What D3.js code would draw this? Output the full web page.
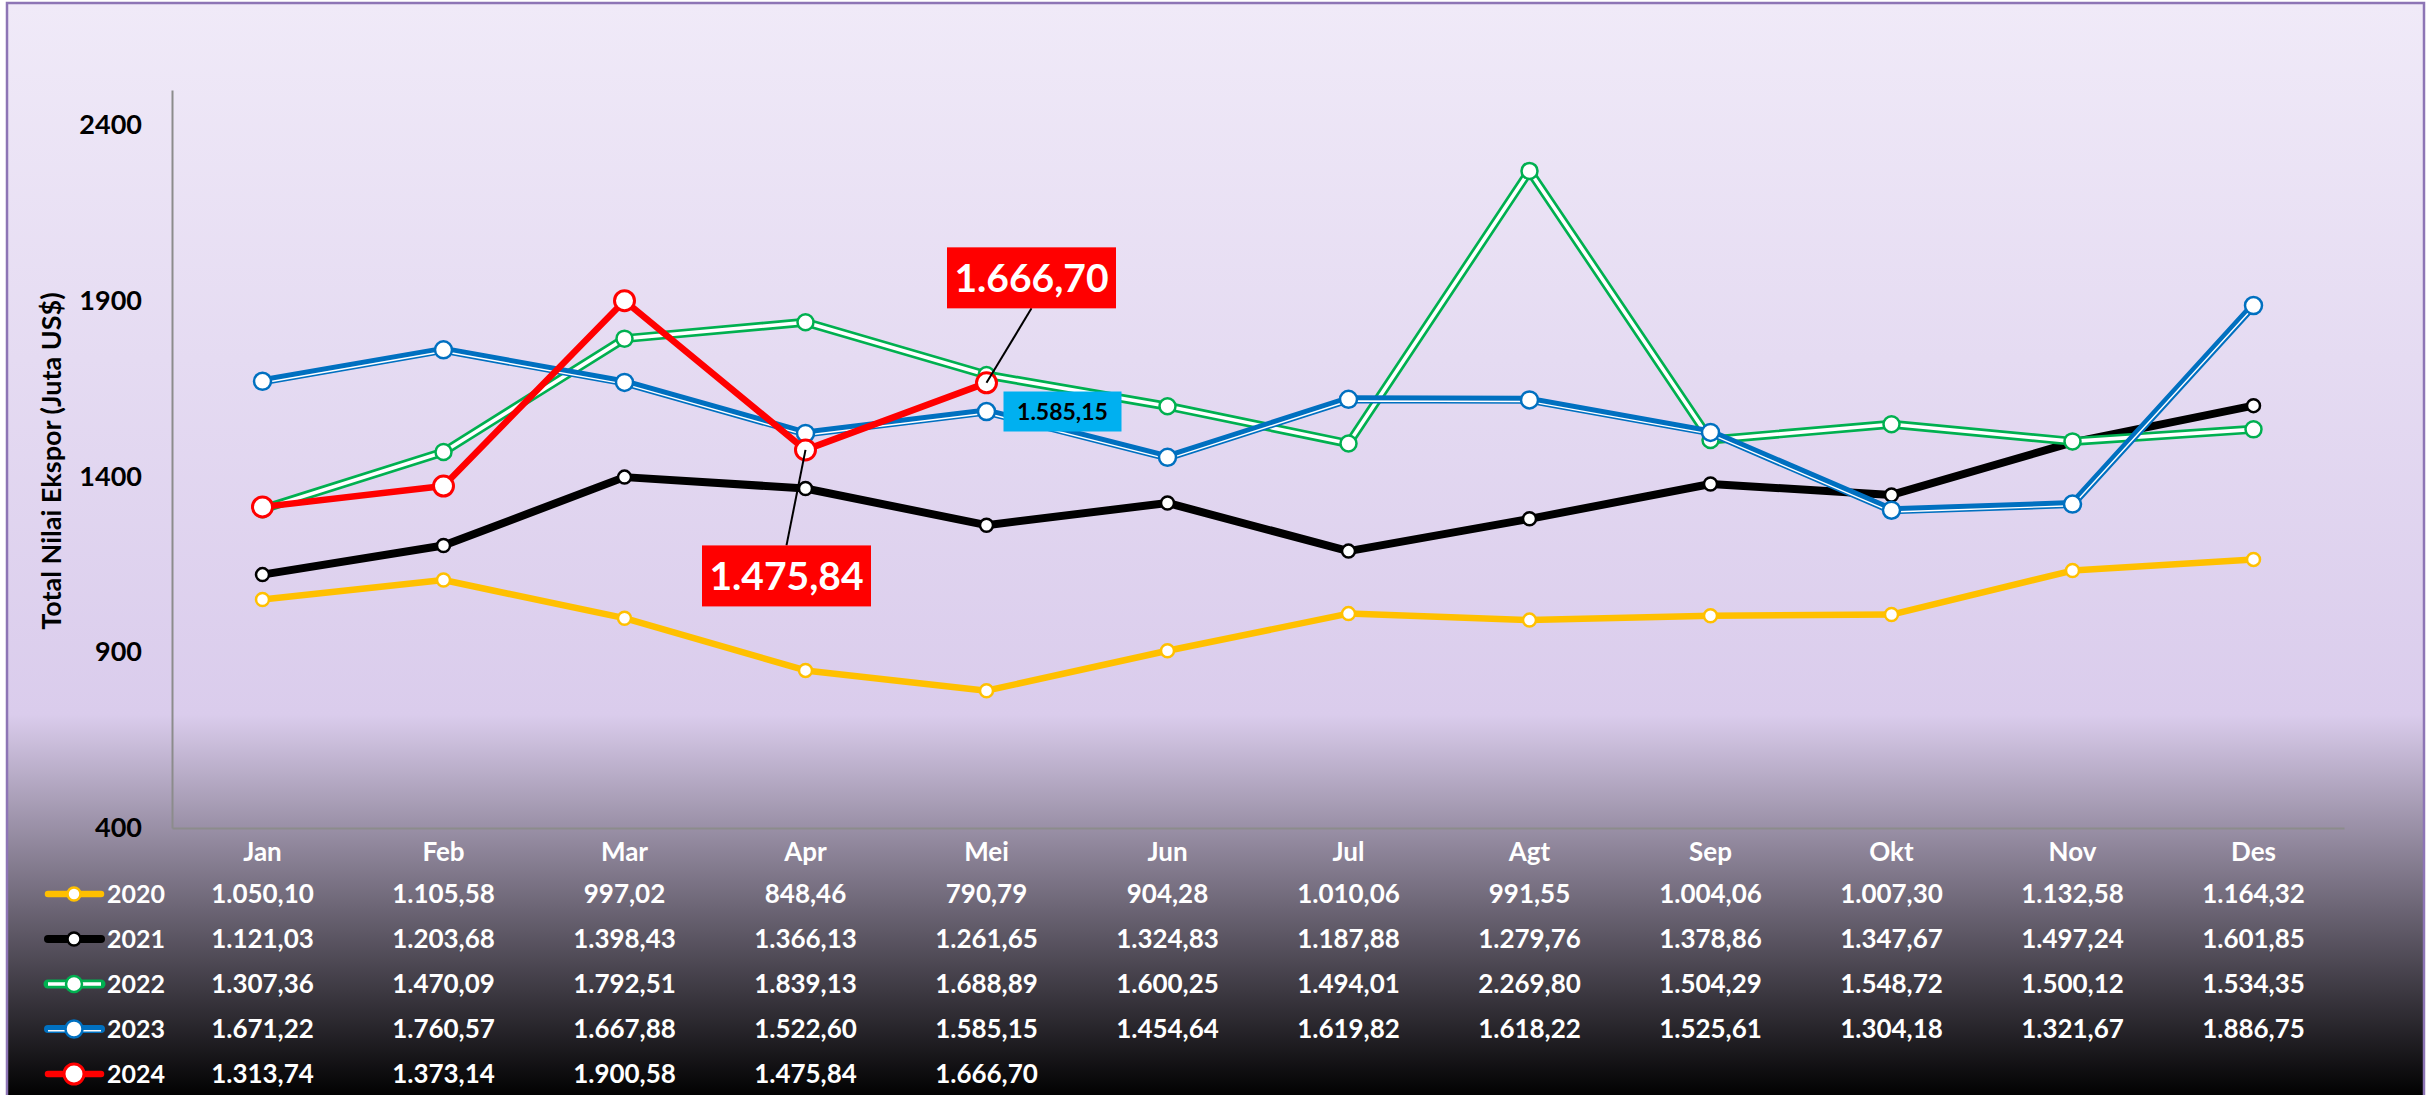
<!DOCTYPE html>
<html>
<head>
<meta charset="utf-8">
<script src="https://cdn.jsdelivr.net/npm/d3@7"></script>
<style>
  body { margin: 0; background: #fff; }
  svg { display: block; font-family: "Lato", "Open Sans", sans-serif; font-weight: 700; }
</style>
</head>
<body>
<div id="chart"></div>
<script>
const months = ["Jan", "Feb", "Mar", "Apr", "Mei", "Jun", "Jul", "Agt", "Sep", "Okt", "Nov", "Des"]
const years = ["2020", "2021", "2022", "2023", "2024"]
const v2020 = [1050.10, 1105.58, 997.02, 848.46, 790.79, 904.28, 1010.06, 991.55, 1004.06, 1007.30, 1132.58, 1164.32]
const v2021 = [1121.03, 1203.68, 1398.43, 1366.13, 1261.65, 1324.83, 1187.88, 1279.76, 1378.86, 1347.67, 1497.24, 1601.85]
const v2022 = [1307.36, 1470.09, 1792.51, 1839.13, 1688.89, 1600.25, 1494.01, 2269.80, 1504.29, 1548.72, 1500.12, 1534.35]
const v2023 = [1671.22, 1760.57, 1667.88, 1522.60, 1585.15, 1454.64, 1619.82, 1618.22, 1525.61, 1304.18, 1321.67, 1886.75]
const v2024 = [1313.74, 1373.14, 1900.58, 1475.84, 1666.70]
const yTicks = [400, 900, 1400, 1900, 2400]
const yTitle = "Total Nilai Ekspor (Juta US$)"
// values that get a callout box
const callouts = [["2024", "Mei"], ["2024", "Apr"], ["2023", "Mei"]]

const values = { "2020": v2020, "2021": v2021, "2022": v2022, "2023": v2023, "2024": v2024 }

const style = {
    "2020": { color: "#FFC000", width: 6.5, r: 6.5, sw: 2.5 },
    "2021": { color: "#000000", width: 8, r: 6.5, sw: 2.5 },
    "2022": { color: "#00B050", width: 9, r: 8, sw: 2.5, inner: 3.6, off: 0 },
    "2023": { color: "#0070C0", width: 8, r: 8.5, sw: 2.5, inner: 1.4, off: 1.7 },
    "2024": { color: "#FF0000", width: 6.5, r: 10, sw: 3 }
}

const W = 2434, H = 1095
const fmt = d3.formatLocale({ decimal: ",", thousands: ".", grouping: [3], currency: ["", ""] }).format(",.2f")

const svg = d3.select("#chart").append("svg").attr("width", W).attr("height", H)

const defs = svg.append("defs")
const grad = defs.append("linearGradient").attr("id", "bg")
    .attr("x1", 0).attr("y1", 0).attr("x2", 0).attr("y2", 1)
grad.append("stop").attr("offset", "0%").attr("stop-color", "#F0EAF8")
grad.append("stop").attr("offset", "65%").attr("stop-color", "#DACCEC")
grad.append("stop").attr("offset", "100%").attr("stop-color", "#000000")

svg.append("rect")
    .attr("x", 7).attr("y", 3).attr("width", 2417).attr("height", 1095)
    .attr("fill", "url(#bg)")
    .attr("stroke", "#8D75B5").attr("stroke-width", 2.5)

const x = d3.scaleBand().domain(months).range([172, 2344])
const y = d3.scaleLinear().domain([400, 2500]).range([828, 90])
const cx = (m) => x(m) + x.bandwidth() / 2

// axes
const yAxis = svg.append("g").attr("transform", "translate(172,0)")
    .call(d3.axisLeft(y).tickValues(yTicks).tickFormat(d3.format("d")).tickSize(0).tickPadding(30))
yAxis.select(".domain").attr("stroke", "#8C8C8C").attr("stroke-width", 2)
yAxis.selectAll("text").attr("font-size", 27).attr("font-weight", 700).attr("fill", "#000")
    .attr("font-family", "Lato")

const xAxis = svg.append("g").attr("transform", "translate(0,828)")
    .call(d3.axisBottom(x).tickSize(0).tickPadding(15))
xAxis.select(".domain").attr("stroke", "#8C8C8C").attr("stroke-width", 2)
xAxis.selectAll("text").attr("font-size", 26).attr("font-weight", 700).attr("fill", "#fff")
    .attr("font-family", "Lato")

svg.append("text")
    .attr("transform", "translate(61,461) rotate(-90)")
    .attr("text-anchor", "middle")
    .attr("font-size", 27)
    .attr("fill", "#000")
    .text(yTitle)

// lines + markers
const line = d3.line().x((d) => cx(d.m)).y((d) => y(d.v))

years.forEach((yr) => {
    const s = style[yr]
    const pts = values[yr].map((v, i) => ({ m: months[i], v: v }))
    const g = svg.append("g")
    g.append("path").datum(pts).attr("d", line)
        .attr("fill", "none").attr("stroke", s.color).attr("stroke-width", s.width)
        .attr("stroke-linejoin", "round").attr("stroke-linecap", "round")
    if (s.inner) {
        g.append("path").datum(pts).attr("d", line)
            .attr("transform", `translate(0,${s.off})`)
            .attr("fill", "none").attr("stroke", "#fff").attr("stroke-width", s.inner)
            .attr("stroke-linejoin", "round").attr("stroke-linecap", "round")
    }
    g.selectAll("circle").data(pts).join("circle")
        .attr("cx", (d) => cx(d.m)).attr("cy", (d) => y(d.v))
        .attr("r", s.r).attr("fill", "#fff")
        .attr("stroke", s.color).attr("stroke-width", s.sw)
})

// callouts
const box = [
    { dx: 45, dy: -105, w: 169, h: 61, fill: "#FF0000", text: "#fff", size: 39 },
    { dx: -19, dy: 126, w: 169, h: 61, fill: "#FF0000", text: "#fff", size: 39 },
    { dx: 76, dy: 0, w: 118, h: 40, fill: "#00B0F0", text: "#000", size: 23 }
]
callouts.forEach(([yr, m], i) => {
    const b = box[i]
    const v = values[yr][months.indexOf(m)]
    const px = cx(m), py = y(v)
    const bx = px + b.dx, by = py + b.dy
    if (yr === "2024") {
        const ey = b.dy < 0 ? by + b.h / 2 : by - b.h / 2
        svg.append("line").attr("x1", bx).attr("y1", ey).attr("x2", px).attr("y2", py)
            .attr("stroke", "#000").attr("stroke-width", 2)
    }
    svg.append("rect").attr("x", bx - b.w / 2).attr("y", by - b.h / 2)
        .attr("width", b.w).attr("height", b.h).attr("fill", b.fill)
    svg.append("text").attr("x", bx).attr("y", by + b.size * 0.36)
        .attr("text-anchor", "middle").attr("font-size", b.size).attr("fill", b.text)
        .text(fmt(v))
})

// data table
const row = d3.scaleBand().domain(years).range([871.5, 1096.5])
const rc = (yr) => row(yr) + row.bandwidth() / 2

years.forEach((yr) => {
    const s = style[yr]
    const ly = rc(yr)
    const g = svg.append("g")
    g.append("line").attr("x1", 48).attr("x2", 101).attr("y1", ly).attr("y2", ly)
        .attr("stroke", s.color).attr("stroke-width", s.width).attr("stroke-linecap", "round")
    if (s.inner) {
        g.append("line").attr("x1", 48).attr("x2", 101).attr("y1", ly + s.off).attr("y2", ly + s.off)
            .attr("stroke", "#fff").attr("stroke-width", s.inner)
    }
    g.append("circle").attr("cx", 74).attr("cy", ly).attr("r", s.r)
        .attr("fill", "#fff").attr("stroke", s.color).attr("stroke-width", s.sw)
    g.append("text").attr("x", 107).attr("y", ly + 9).attr("font-size", 25).attr("fill", "#fff")
        .text(yr)
    g.selectAll("text.val").data(values[yr]).join("text").attr("class", "val")
        .attr("x", (d, i) => cx(months[i])).attr("y", ly + 9.4)
        .attr("text-anchor", "middle").attr("font-size", 26).attr("fill", "#fff")
        .text((d) => fmt(d))
})
</script>
</body>
</html>
